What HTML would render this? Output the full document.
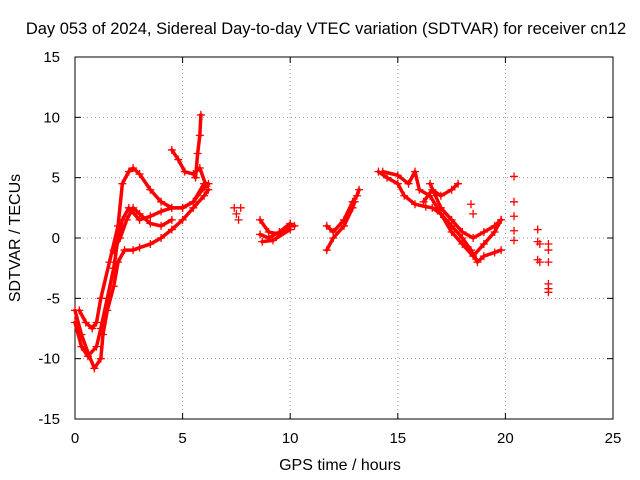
<!DOCTYPE html>
<html><head><meta charset="utf-8"><style>
body{margin:0;background:#fff;}
svg{display:block;font-family:"Liberation Sans",sans-serif;font-size:15px;}
</style></head><body>
<svg id="chart" width="640" height="480">
<rect width="640" height="480" fill="#fff"/>
<text x="326" y="34" text-anchor="middle" style="font-size:16.5px">Day 053 of 2024, Sidereal Day-to-day VTEC variation (SDTVAR) for receiver cn12</text>
<text x="340" y="470" text-anchor="middle" style="font-size:16px">GPS time / hours</text>
<text transform="translate(20,238) rotate(-90)" text-anchor="middle" style="font-size:16px">SDTVAR / TECUs</text>
<g id="grid"></g><g id="axes"></g><g id="marks"></g>
</svg>
<script>
const xTicks=[0,5,10,15,20,25];
const yTicks=[-15,-10,-5,0,5,10,15];
const traceA=[[0,-6],[0.3,-8],[0.6,-9.5],[0.9,-10.8],[1.2,-10],[1.3,-8],[1.5,-6],[1.8,-4],[2.0,-2],[2.3,-1],[2.7,-1],[3.0,-0.8],[3.5,-0.5],[4,0],[4.5,0.7],[5,1.5],[5.5,2.5],[6,3.5],[6.2,4]];
const traceB=[[0,-7],[0.3,-9],[0.6,-9.8],[1.0,-9],[1.2,-7.5],[1.5,-5],[1.8,-2.5],[2.0,0],[2.2,1.5],[2.5,2.5],[3,1.5],[3.5,1.8],[4,2.2],[4.5,2.5],[5,2.5],[5.5,3],[6,4.5],[6.2,4.5]];
const traceC=[[0.2,-6],[0.5,-7],[0.8,-7.5],[1.0,-7],[1.2,-5],[1.6,-2],[2.0,1],[2.2,4.5],[2.5,5.5],[2.7,5.8],[3,5.3],[3.5,4],[4,3],[4.5,2.5],[5,2.5],[5.5,3],[6,4.2]];
const traceD=[[1.8,-1],[2.1,0],[2.4,1.5],[2.7,2.5],[3,2],[3.5,1.2],[4,1],[4.5,1.5]];
const traceE=[[4.5,7.3],[4.8,6.5],[5.1,5.5],[5.5,5.3],[5.8,5.8],[6.1,4.3]];
const traceSpike=[[5.6,5],[5.7,7],[5.8,8.5],[5.85,10.2]];
const traceF=[[8.6,1.5],[9,0.5],[9.5,0.3],[10,1],[10.2,1]];
const traceG=[[8.6,0.3],[9,0],[9.5,0.5],[10,1.2]];
const traceH=[[8.7,-0.3],[9.2,-0.2],[10,0.7]];
const traceI=[[11.7,-1],[12,0],[12.5,1],[12.9,2.5],[13,3]];
const traceJ=[[11.7,1],[12,0.5],[12.5,1.5],[12.9,3],[13.1,3.5],[13.2,4]];
const traceK=[[14.1,5.5],[14.5,5],[15,4.5],[15.3,3.5],[15.8,2.8],[16.3,2.6],[16.6,2.5],[17,2],[17.5,1],[18,0],[18.4,-1],[18.7,-2],[19,-1.5],[19.5,-1.2],[19.8,-1]];
const traceL=[[14.3,5.5],[15,5.2],[15.5,4.5],[15.8,5.5],[16,4],[16.5,3.5],[17,2],[17.5,0.5],[18,-0.5],[18.5,-1.5],[19,-0.5],[19.5,0.5],[19.8,1.5]];
const traceM=[[16.2,3],[16.6,4],[17,3.5],[17.5,4],[17.8,4.5]];
const traceN=[[16.5,4.5],[17,2.5],[17.5,1.5],[18,0.5],[18.5,0],[19,0.5],[19.5,1],[19.8,1.5]];
const scatterPts=[[7.4,2.5],[7.5,2],[7.6,1.5],[7.7,2.5],[18.4,2.8],[18.5,2],[20.4,5.1],[20.4,3],[20.4,1.8],[20.4,0.6],[20.4,-0.2],[21.5,0.7],[21.5,-0.3],[21.6,-0.5],[21.5,-1.8],[21.6,-2],[22,-0.5],[22,-1],[22,-2],[22,-3.8],[22,-4.2],[22,-4.5]];
const traces=[traceA,traceB,traceC,traceD,traceE,traceSpike,traceF,traceG,traceH,traceI,traceJ,traceK,traceL,traceM,traceN];

const X0=75,X1=613,Y0=419,Y1=57;
const xs=v=>X0+(v-0)/25*(X1-X0);
const ys=v=>Y0-(v+15)/30*(Y0-Y1);
const NS="http://www.w3.org/2000/svg";
function mk(tag,attrs,parent){const e=document.createElementNS(NS,tag);for(const k in attrs)e.setAttribute(k,attrs[k]);parent.appendChild(e);return e;}
const grid=document.getElementById('grid'),axes=document.getElementById('axes'),marks=document.getElementById('marks');
xTicks.forEach(t=>{
  if(t>0&&t<25){const g=mk('line',{x1:xs(t),x2:xs(t),y1:Y1,y2:Y0,stroke:'#a0a0a0','stroke-dasharray':'1,3'},grid);
  
  }
  const l=mk('text',{x:xs(t),y:Y0+24,'text-anchor':'middle'},axes);l.textContent=t;
  
  
  mk('line',{x1:xs(t),x2:xs(t),y1:Y0,y2:Y0-6,stroke:'#000'},axes);
  mk('line',{x1:xs(t),x2:xs(t),y1:Y1,y2:Y1+6,stroke:'#000'},axes);
});
yTicks.forEach(t=>{
  if(t>-15&&t<15){const g=mk('line',{x1:X0,x2:X1,y1:ys(t),y2:ys(t),stroke:'#a0a0a0','stroke-dasharray':'1,3'},grid);
  
  }
  const l=mk('text',{x:X0-15,y:ys(t)+5,'text-anchor':'end'},axes);l.textContent=t;
  
  
  mk('line',{x1:X0,x2:X0+6,y1:ys(t),y2:ys(t),stroke:'#000'},axes);
  mk('line',{x1:X1,x2:X1-6,y1:ys(t),y2:ys(t),stroke:'#000'},axes);
});
const frame=mk('rect',{x:X0,y:Y1,width:X1-X0,height:Y0-Y1,fill:'none',stroke:'#000'},axes);


function plus(p){const x=xs(p[0]),y=ys(p[1]);
  const g=mk('path',{d:`M${x-4},${y}H${x+4}M${x},${y-4}V${y+4}`,stroke:'#f00','stroke-width':1.3,fill:'none'},marks);
  
  }
traces.forEach(tr=>{
  const pl=mk('polyline',{points:tr.map(p=>xs(p[0])+','+ys(p[1])).join(' '),fill:'none',stroke:'#f00','stroke-width':3.5,'stroke-linejoin':'round','stroke-linecap':'round'},marks);
  
  
  tr.forEach(plus);
});
scatterPts.forEach(plus);
</script>
</body></html>
